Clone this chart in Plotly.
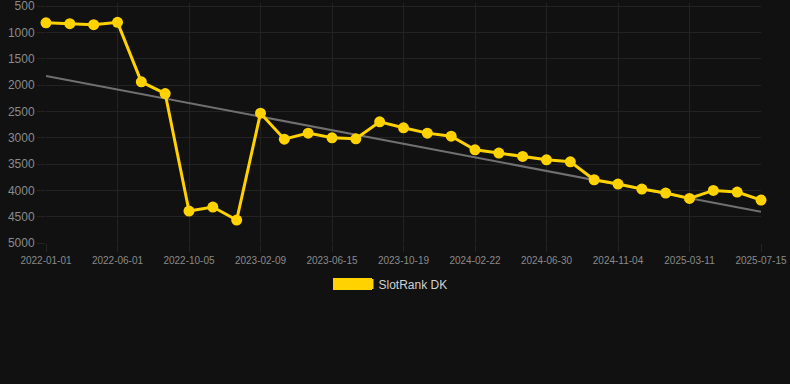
import plotly.graph_objects as go

dates = [
    "2022-01-01", "2022-02-20", "2022-04-11", "2022-06-01",
    "2022-07-13", "2022-08-24", "2022-10-05",
    "2022-11-17", "2022-12-29", "2023-02-09",
    "2023-03-23", "2023-05-04", "2023-06-15",
    "2023-07-27", "2023-09-07", "2023-10-19",
    "2023-11-30", "2024-01-11", "2024-02-22",
    "2024-04-04", "2024-05-17", "2024-06-30",
    "2024-08-11", "2024-09-23", "2024-11-04",
    "2024-12-16", "2025-01-27", "2025-03-11",
    "2025-04-22", "2025-06-03", "2025-07-15",
]
rank = [
    820, 835, 854, 810,
    1940, 2162, 4393,
    4317, 4564, 2535,
    3028, 2914, 3003,
    3022, 2699, 2813,
    2914, 2971, 3230,
    3293, 3357, 3420,
    3458, 3799, 3881,
    3976, 4052, 4154,
    4002, 4033, 4184,
]
tick_labels = dates[::3]
trend_x = [dates[0], dates[-1]]
trend_y = [1827, 4405]
y_ticks = [500, 1000, 1500, 2000, 2500, 3000, 3500, 4000, 4500, 5000]

GOLD = "#FFD200"
BG = "#111111"
GRID = "#232323"
TICK = "#8a8a8a"

fig = go.Figure()
fig.add_trace(go.Scatter(
    x=trend_x, y=trend_y, mode="lines",
    line=dict(color="#707070", width=2),
    showlegend=False, hoverinfo="skip",
))
fig.add_trace(go.Scatter(
    x=dates, y=rank, mode="lines+markers", name="SlotRank DK",
    line=dict(color=GOLD, width=3),
    marker=dict(color=GOLD, size=11),
    showlegend=False, cliponaxis=False,
))
fig.add_trace(go.Scatter(
    x=[None], y=[None], mode="lines", name="SlotRank DK",
    line=dict(color=GOLD, width=12),
    showlegend=True,
))

# widen the legend swatch to a 40px box (Chart.js style)
fig.add_shape(
    type="rect", xref="paper", yref="paper",
    x0=(333 - 46) / 715, x1=(372 - 46) / 715,
    y0=(243 - 290) / 240, y1=(243 - 278) / 240,
    fillcolor=GOLD, line=dict(width=0), layer="above",
)

fig.update_layout(
    width=790, height=384,
    paper_bgcolor=BG, plot_bgcolor=BG,
    margin=dict(l=46, r=29, t=3, b=141),
    font=dict(family="Liberation Sans, Arial, sans-serif", color=TICK),
    showlegend=True,
    legend=dict(
        orientation="h", x=0.4888, xanchor="center", y=-0.171, yanchor="middle",
        font=dict(size=12, color="#d0d0d0"), bgcolor="rgba(0,0,0,0)",
    ),
    xaxis=dict(
        type="category", categoryorder="array", categoryarray=dates,
        range=[0, len(dates) - 1], automargin=False,
        tickmode="array", tickvals=tick_labels, ticktext=tick_labels,
        tickfont=dict(size=10, color=TICK), tickangle=0,
        showgrid=True, gridcolor=GRID, gridwidth=1,
        zeroline=False, showline=False,
        ticks="outside", ticklen=8, tickcolor=GRID, tickwidth=1,
        ticklabeloverflow="allow",
    ),
    yaxis=dict(
        range=[5000, 443], automargin=False,
        tickmode="array", tickvals=y_ticks,
        tickfont=dict(size=12, color=TICK),
        showgrid=True, gridcolor=GRID, gridwidth=1,
        zeroline=False, showline=False,
        ticks="outside", ticklen=8, tickcolor=GRID, tickwidth=1,
        ticklabeloverflow="allow",
    ),
)

fig.write_html(
    "out.html",
    config={"displayModeBar": False},
    post_script=(
        "document.body.style.margin='0';"
        "document.body.style.background='#111111';"
        "document.body.style.overflow='hidden';"
    ),
)
